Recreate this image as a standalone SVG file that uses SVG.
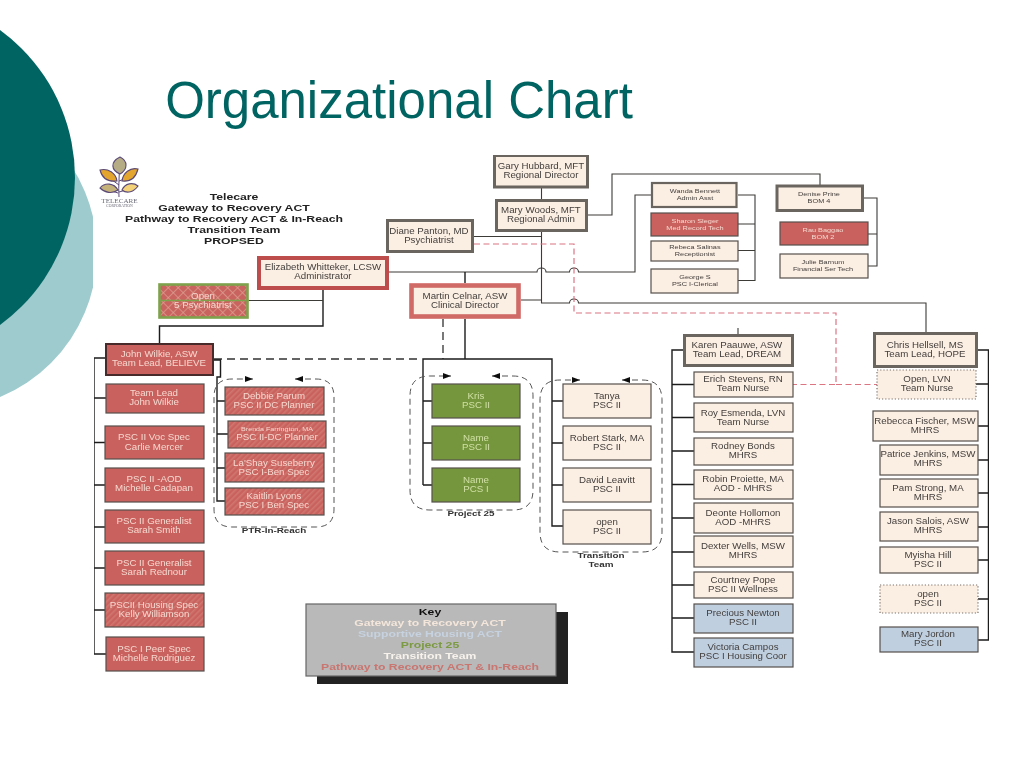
<svg xmlns="http://www.w3.org/2000/svg" width="1024" height="768" viewBox="0 0 1024 768">
<style>
text{font-family:"Liberation Sans",Arial,sans-serif;text-anchor:middle;font-size:8.2px;fill:#423e3b;transform-box:fill-box;transform-origin:center;transform:scaleX(1.185)}
.sm{font-size:6.2px}
.lt{fill:#f6d8cf}
.gt{fill:#cfe0a5}
.hd{font-weight:bold;fill:#222;font-size:9.4px;transform:scaleX(1.3)}
.lb{font-weight:bold;fill:#333;font-size:7.6px;transform:scaleX(1.3)}
rect{stroke:#55504c;stroke-width:1.2}
.beige{fill:#fbeee3}
.red{fill:#c9625f}
.blue{fill:#bfcfe0}
.grn{fill:#76963c}
.hat{fill:url(#hatch)}
.dbl{fill:#fbeee3;stroke:#6a655f;stroke-width:3}
.dot{fill:#fbeee3;stroke:#7a716a;stroke-width:1.2;stroke-dasharray:1.2 2}
.c{fill:none;stroke:#3c3a38;stroke-width:1.1}
.cb{fill:none;stroke:#1c1c1c;stroke-width:1.4}
.dash{fill:none;stroke:#333;stroke-width:1.3;stroke-dasharray:8 5}
.rd{fill:none;stroke:#dc7482;stroke-width:1.2;stroke-dasharray:6 3.5}
.grp{fill:none;stroke:#555;stroke-width:1;stroke-dasharray:6 4;marker-start:url(#ah);marker-end:url(#ah)}
.lf{stroke:#5b4a78;stroke-width:1.1}
</style>
<defs>
<pattern id="hatch" width="4" height="4" patternUnits="userSpaceOnUse" patternTransform="rotate(45)"><rect width="4" height="4" style="fill:#c9625f;stroke:none"/><rect width="1.6" height="4" style="fill:#d0766f;stroke:none"/></pattern>
<pattern id="cross" width="7" height="7" patternUnits="userSpaceOnUse" patternTransform="rotate(45)"><rect width="7" height="7" style="fill:#c9645f;stroke:none"/><path d="M0 0H7M0 0V7" stroke="#dc9e90" stroke-width="1.4"/></pattern>
<marker id="ah" viewBox="0 0 10 10" refX="10" refY="5" markerWidth="8" markerHeight="6" markerUnits="userSpaceOnUse" orient="auto-start-reverse" preserveAspectRatio="none"><path d="M0 0L10 5L0 10Z" fill="#111"/></marker>
<clipPath id="lc"><rect x="0" y="0" width="93" height="768"/></clipPath>
<filter id="soft" x="0" y="0" width="1" height="1" filterUnits="objectBoundingBox"><feGaussianBlur stdDeviation="0.35"/></filter>
</defs>
<g id="background">
<circle cx="-60" cy="252" r="157" fill="#9dcbce" clip-path="url(#lc)"/>
<circle cx="-107.500" cy="177.500" r="182.500" fill="#006462"/>
</g>
<text id="title" x="399" y="118" style="font-size:51px;fill:#006462;transform:none">Organizational Chart</text>
<g filter="url(#soft)">
<g id="logo">
<path d="M119 197C118 186 120 174 119 165M119 185L108 177M119 181L130 177M118 193L109 190M119 192L130 189" fill="none" stroke="#5b4a78" stroke-width="1"/>
<path class="lf" d="M120 157C128 161 128 169 120 174C111 170 110 162 120 157Z" fill="#b5ab84"/>
<path class="lf" d="M100 170C108 168 116 173 117 181C108 182 102 178 100 170Z" fill="#e3a52e"/>
<path class="lf" d="M138 169C130 167 123 173 122 181C131 182 136 177 138 169Z" fill="#e3a52e"/>
<path class="lf" d="M100 188C105 182 114 183 118 190C112 194 105 193 100 188Z" fill="#c4b27a"/>
<path class="lf" d="M138 186C133 182 125 183 122 190C127 194 134 192 138 186Z" fill="#f4d27a"/>
<text x="119.500" y="203" style="font-family:'Liberation Serif',serif;font-size:6px;fill:#6a6a78">TELECARE</text>
<text x="119.500" y="207" style="font-family:'Liberation Serif',serif;font-size:3.2px;fill:#6a6a78">CORPORATION</text>
</g>
<g id="heading">
<text class="hd" x="234" y="200.500">Telecare</text>
<text class="hd" x="234" y="211.500">Gateway to Recovery ACT</text>
<text class="hd" x="234" y="222.500">Pathway to Recovery ACT &amp; In-Reach</text>
<text class="hd" x="234" y="233.500">Transition Team</text>
<text class="hd" x="234" y="244.500">PROPSED</text>
</g>
<g id="connectors">
<path class="c" d="M541.500 188V199M541.500 232V303H569.500a4.500 4 0 0 1 9 0H926V332M474 236.500H541.500M521 300H541.500M738 328V334"/>
<path class="c" d="M389 272H537a4.500 4 0 0 1 9 0H569.500a4.500 4 0 0 1 9 0H635V195H651"/>
<path class="cb" d="M465 272V283M465 319V359M323 290V326H159.500V343"/>
<path class="c" d="M249 300.500H323"/>
<path class="c" d="M588 215H612V174H820V185"/>
<path class="c" d="M738 195H755V280.500H738M738 224H755M738 250.500H755"/>
<path class="c" d="M863 198H877V266H868M868 234H877"/>
<path class="dash" d="M214 359H422M443 319V359"/>
<path class="rd" d="M474 244H574V313H836V384.500H793M836 384.500H877"/>
<path class="cb" d="M105 358H94V654H106M94 398H106M94 442.500H105M94 485H105M94 527H105M94 568H105M94 610H105"/>
<path class="cb" d="M214 360H220.500V377H217V501H225M217 401H225M217 434H228M217 468H225"/>
<path class="cb" d="M423 485V359H552V526H563M423 401H432M423 443H432M423 485H432M552 401H563M552 443H563M552 485H563"/>
<path class="cb" d="M683 350H672V652H694M672 384.500H694M672 417.500H694M672 451H694M672 484.500H694M672 518H694M672 552H694M672 585H694M672 618H694"/>
<path class="cb" d="M977 350H988.500V640H978M976 384H988.500M978 426H988.500M978 460H988.500M978 493H988.500M978 527H988.500M978 560H988.500M978 599H988.500"/>
<path class="grp" d="M295 379H316Q334 379 334 397V509Q334 527 316 527H232Q214 527 214 509V397Q214 379 232 379H253"/>
<path class="grp" d="M492 376H513Q533 376 533 396V490Q533 510 513 510H430Q410 510 410 490V396Q410 376 430 376H451"/>
<path class="grp" d="M622 380H642Q662 380 662 400V532Q662 552 642 552H560Q540 552 540 532V400Q540 380 560 380H580"/>
</g>
<g id="n-gary"><rect class="dbl" x="494.500" y="155.500" width="93" height="31.500"/><text><tspan x="541" y="169">Gary Hubbard, MFT</tspan><tspan x="541" y="178">Regional Director</tspan></text></g>
<g id="n-mary"><rect class="dbl" x="496.500" y="200.500" width="90" height="30"/><text><tspan x="541" y="213.300">Mary Woods, MFT</tspan><tspan x="541" y="222.300">Regional Admin</tspan></text></g>
<g id="n-diane"><rect class="dbl" x="387.500" y="220.500" width="85" height="31"/><text><tspan x="429" y="234.300">Diane Panton, MD</tspan><tspan x="429" y="243.300">Psychiatrist</tspan></text></g>
<g id="n-elizabeth"><rect x="259" y="258" width="128" height="30" fill="#fbeee3" style="stroke:#bd4e4e;stroke-width:4"/><text><tspan x="323" y="270.300">Elizabeth Whitteker, LCSW</tspan><tspan x="323" y="279.300">Administrator</tspan></text></g>
<g id="n-open-psych"><rect x="159.500" y="284.500" width="88" height="33" fill="url(#cross)" style="stroke:#7ea24c;stroke-width:2.600"/><path d="M159 300.500H249" stroke="#7ea24c" stroke-width="1.400"/><text class="lt"><tspan class="lt" x="203" y="299.300">Open</tspan><tspan class="lt" x="203" y="308.300">5 Psychiatrist</tspan></text></g>
<g id="n-martin"><rect x="411.500" y="285.500" width="107" height="31" fill="#fbeee3" style="stroke:#d06a66;stroke-width:4.600"/><text><tspan x="465" y="299">Martin Celnar, ASW</tspan><tspan x="465" y="308">Clinical Director</tspan></text></g>
<g id="n-wanda"><rect class="dbl" x="652" y="183" width="84.500" height="24" style="stroke-width:2.200"/><text class="sm"><tspan x="695" y="193.500">Wanda Bennett</tspan><tspan x="695" y="200.500">Admin Asst</tspan></text></g>
<g id="n-sharon"><rect class="red" x="651" y="213" width="87" height="23"/><text class="sm"><tspan class="lt" x="695" y="223.300">Sharon Sleger</tspan><tspan class="lt" x="695" y="230.300">Med Record Tech</tspan></text></g>
<g id="n-rebeca"><rect class="beige" x="651" y="241" width="87" height="20"/><text class="sm"><tspan x="695" y="249.300">Rebeca Salinas</tspan><tspan x="695" y="256.300">Receptionist</tspan></text></g>
<g id="n-george"><rect class="beige" x="651" y="269" width="87" height="24"/><text class="sm"><tspan x="695" y="279.500">George S</tspan><tspan x="695" y="286.500">PSC I-Clerical</tspan></text></g>
<g id="n-denise"><rect class="dbl" x="777" y="186" width="85.500" height="24.500"/><text class="sm"><tspan x="819" y="196.500">Denise Prine</tspan><tspan x="819" y="203.500">BOM 4</tspan></text></g>
<g id="n-rau"><rect class="red" x="780" y="222" width="88" height="23"/><text class="sm"><tspan class="lt" x="823" y="232.500">Rau Baggao</tspan><tspan class="lt" x="823" y="239.500">BOM 2</tspan></text></g>
<g id="n-julie"><rect class="beige" x="780" y="254" width="88" height="24"/><text class="sm"><tspan x="823" y="264.500">Julie Barnum</tspan><tspan x="823" y="271.500">Financial Ser Tech</tspan></text></g>
<g id="n-karen"><rect class="dbl" x="684.500" y="335.500" width="108" height="30"/><text><tspan x="737" y="348.300">Karen Paauwe, ASW</tspan><tspan x="737" y="357.300">Team Lead, DREAM</tspan></text></g>
<g id="n-chris"><rect class="dbl" x="874.500" y="333.500" width="102" height="33"/><text><tspan x="925" y="348.300">Chris Hellsell, MS</tspan><tspan x="925" y="357.300">Team Lead, HOPE</tspan></text></g>
<g id="n-erich"><rect class="beige" x="694" y="372" width="99" height="25"/><text><tspan x="743" y="382.300">Erich Stevens, RN</tspan><tspan x="743" y="391.300">Team Nurse</tspan></text></g>
<g id="n-open-lvn"><rect class="dot" x="877" y="370" width="99" height="29"/><text><tspan x="927" y="382.300">Open, LVN</tspan><tspan x="927" y="391.300">Team Nurse</tspan></text></g>
<g id="n-roy"><rect class="beige" x="694" y="403" width="99" height="29"/><text><tspan x="743" y="416.300">Roy Esmenda, LVN</tspan><tspan x="743" y="425.300">Team Nurse</tspan></text></g>
<g id="n-rodney"><rect class="beige" x="694" y="438" width="99" height="27"/><text><tspan x="743" y="449.300">Rodney Bonds</tspan><tspan x="743" y="458.300">MHRS</tspan></text></g>
<g id="n-robin"><rect class="beige" x="694" y="470" width="99" height="29"/><text><tspan x="743" y="482.300">Robin Proiette, MA</tspan><tspan x="743" y="491.300">AOD - MHRS</tspan></text></g>
<g id="n-deonte"><rect class="beige" x="694" y="503" width="99" height="30"/><text><tspan x="743" y="516.300">Deonte Hollomon</tspan><tspan x="743" y="525.300">AOD -MHRS</tspan></text></g>
<g id="n-dexter"><rect class="beige" x="694" y="536" width="99" height="31"/><text><tspan x="743" y="549.300">Dexter Wells, MSW</tspan><tspan x="743" y="558.300">MHRS</tspan></text></g>
<g id="n-courtney"><rect class="beige" x="694" y="572" width="99" height="26"/><text><tspan x="743" y="583.300">Courtney Pope</tspan><tspan x="743" y="592.300">PSC II Wellness</tspan></text></g>
<g id="n-precious"><rect class="blue" x="694" y="604" width="99" height="29"/><text><tspan x="743" y="616.300">Precious Newton</tspan><tspan x="743" y="625.300">PSC II</tspan></text></g>
<g id="n-victoria"><rect class="blue" x="694" y="638" width="99" height="29"/><text><tspan x="743" y="650.300">Victoria Campos</tspan><tspan x="743" y="659.300">PSC I Housing Coor</tspan></text></g>
<g id="n-rebecca"><rect class="beige" x="873" y="411" width="105" height="30"/><text><tspan x="925" y="424.300">Rebecca Fischer, MSW</tspan><tspan x="925" y="433.300">MHRS</tspan></text></g>
<g id="n-patrice"><rect class="beige" x="880" y="445" width="98" height="30"/><text><tspan x="928" y="457.300">Patrice Jenkins, MSW</tspan><tspan x="928" y="466.300">MHRS</tspan></text></g>
<g id="n-pam"><rect class="beige" x="880" y="479" width="98" height="28"/><text><tspan x="928" y="491.300">Pam Strong, MA</tspan><tspan x="928" y="500.300">MHRS</tspan></text></g>
<g id="n-jason"><rect class="beige" x="880" y="512" width="98" height="29"/><text><tspan x="928" y="524.300">Jason Salois, ASW</tspan><tspan x="928" y="533.300">MHRS</tspan></text></g>
<g id="n-myisha"><rect class="beige" x="880" y="547" width="98" height="26"/><text><tspan x="928" y="558">Myisha Hill</tspan><tspan x="928" y="567">PSC II</tspan></text></g>
<g id="n-open-right"><rect class="dot" x="880" y="585" width="98" height="28"/><text><tspan x="928" y="597">open</tspan><tspan x="928" y="606">PSC II</tspan></text></g>
<g id="n-jordon"><rect class="blue" x="880" y="627" width="98" height="25"/><text><tspan x="928" y="637.300">Mary Jordon</tspan><tspan x="928" y="646.300">PSC II</tspan></text></g>
<g id="n-wilkie"><rect class="red" x="106" y="344" width="107" height="31" style="stroke:#4a2c2c;stroke-width:2"/><text><tspan class="lt" x="159" y="357.300">John Wilkie, ASW</tspan><tspan class="lt" x="159" y="366.300">Team Lead, BELIEVE</tspan></text></g>
<g id="n-teamlead"><rect class="red" x="106" y="384" width="98" height="29"/><text><tspan class="lt" x="154" y="396.300">Team Lead</tspan><tspan class="lt" x="154" y="405.300">John Wilkie</tspan></text></g>
<g id="n-carlie"><rect class="red" x="105" y="426" width="99" height="33"/><text><tspan class="lt" x="154" y="440.300">PSC II Voc Spec</tspan><tspan class="lt" x="154" y="450.300">Carlie Mercer</tspan></text></g>
<g id="n-michelle-c"><rect class="red" x="105" y="468" width="99" height="34"/><text><tspan class="lt" x="154" y="482.300">PSC II -AOD</tspan><tspan class="lt" x="154" y="491.300">Michelle Cadapan</tspan></text></g>
<g id="n-sarah-s"><rect class="red" x="105" y="510" width="99" height="33"/><text><tspan class="lt" x="154" y="524.300">PSC II Generalist</tspan><tspan class="lt" x="154" y="533.300">Sarah Smith</tspan></text></g>
<g id="n-sarah-r"><rect class="red" x="105" y="551" width="99" height="34"/><text><tspan class="lt" x="154" y="566.300">PSC II Generalist</tspan><tspan class="lt" x="154" y="575.300">Sarah Rednour</tspan></text></g>
<g id="n-kelly"><rect class="hat" x="105" y="593" width="99" height="34"/><text><tspan class="lt" x="154" y="608.300">PSCII Housing Spec</tspan><tspan class="lt" x="154" y="617.300">Kelly Williamson</tspan></text></g>
<g id="n-michelle-r"><rect class="red" x="106" y="637" width="98" height="34"/><text><tspan class="lt" x="154" y="652.300">PSC I Peer Spec</tspan><tspan class="lt" x="154" y="661.300">Michelle Rodriguez</tspan></text></g>
<g id="n-debbie"><rect class="hat" x="225" y="387" width="99" height="28"/><text><tspan class="lt" x="274" y="399.300">Debbie Parum</tspan><tspan class="lt" x="274" y="408.300">PSC II DC Planner</tspan></text></g>
<g id="n-brenda"><rect class="hat" x="228" y="421" width="98" height="27"/><text><tspan class="lt" x="277" y="431.500" style="font-size:6px">Brenda Farrington, MA</tspan><tspan class="lt" x="277" y="440.300">PSC II-DC Planner</tspan></text></g>
<g id="n-lashay"><rect class="hat" x="225" y="453" width="99" height="29"/><text><tspan class="lt" x="274" y="466.300">La'Shay Suseberry</tspan><tspan class="lt" x="274" y="475.300">PSC I-Ben Spec</tspan></text></g>
<g id="n-kaitlin"><rect class="hat" x="225" y="488" width="99" height="27"/><text><tspan class="lt" x="274" y="499.300">Kaitlin Lyons</tspan><tspan class="lt" x="274" y="508.300">PSC I Ben Spec</tspan></text></g>
<g id="n-kris"><rect class="grn" x="432" y="384" width="88" height="34"/><text><tspan class="gt" x="476" y="399.300">Kris</tspan><tspan class="gt" x="476" y="408.300">PSC II</tspan></text></g>
<g id="n-name1"><rect class="grn" x="432" y="426" width="88" height="34"/><text><tspan class="gt" x="476" y="441.300">Name</tspan><tspan class="gt" x="476" y="450.300">PSC II</tspan></text></g>
<g id="n-name2"><rect class="grn" x="432" y="468" width="88" height="34"/><text><tspan class="gt" x="476" y="483">Name</tspan><tspan class="gt" x="476" y="492">PCS I</tspan></text></g>
<g id="n-tanya"><rect class="beige" x="563" y="384" width="88" height="34"/><text><tspan x="607" y="399.300">Tanya</tspan><tspan x="607" y="408.300">PSC II</tspan></text></g>
<g id="n-robert"><rect class="beige" x="563" y="426" width="88" height="34"/><text><tspan x="607" y="441.300">Robert Stark, MA</tspan><tspan x="607" y="450.300">PSC II</tspan></text></g>
<g id="n-david"><rect class="beige" x="563" y="468" width="88" height="34"/><text><tspan x="607" y="483">David Leavitt</tspan><tspan x="607" y="492">PSC II</tspan></text></g>
<g id="n-open-trans"><rect class="beige" x="563" y="510" width="88" height="34"/><text><tspan x="607" y="525">open</tspan><tspan x="607" y="534">PSC II</tspan></text></g>
<text class="lb" x="274" y="533">PTR-In-Reach</text>
<text class="lb" x="471" y="516">Project 25</text>
<text class="lb" x="601" y="558">Transition</text>
<text class="lb" x="601" y="567">Team</text>
<g id="key">
<rect x="317" y="612" width="251" height="72" style="fill:#222;stroke:none"/>
<rect x="306" y="604" width="250" height="72" style="fill:#b9b9b9;stroke:#666"/>
<text class="hd" x="430" y="615.500" style="fill:#111">Key</text>
<text class="hd" x="430" y="626.500" style="fill:#f4e6da">Gateway to Recovery ACT</text>
<text class="hd" x="430" y="637.500" style="fill:#c6d2e0">Supportive Housing ACT</text>
<text class="hd" x="430" y="648.500" style="fill:#7c9a42">Project 25</text>
<text class="hd" x="430" y="659.500" style="fill:#f7f2ec">Transition Team</text>
<text class="hd" x="430" y="670.500" style="fill:#c9746f">Pathway to Recovery ACT &amp; In-Reach</text>
</g>
</g>
</svg>
